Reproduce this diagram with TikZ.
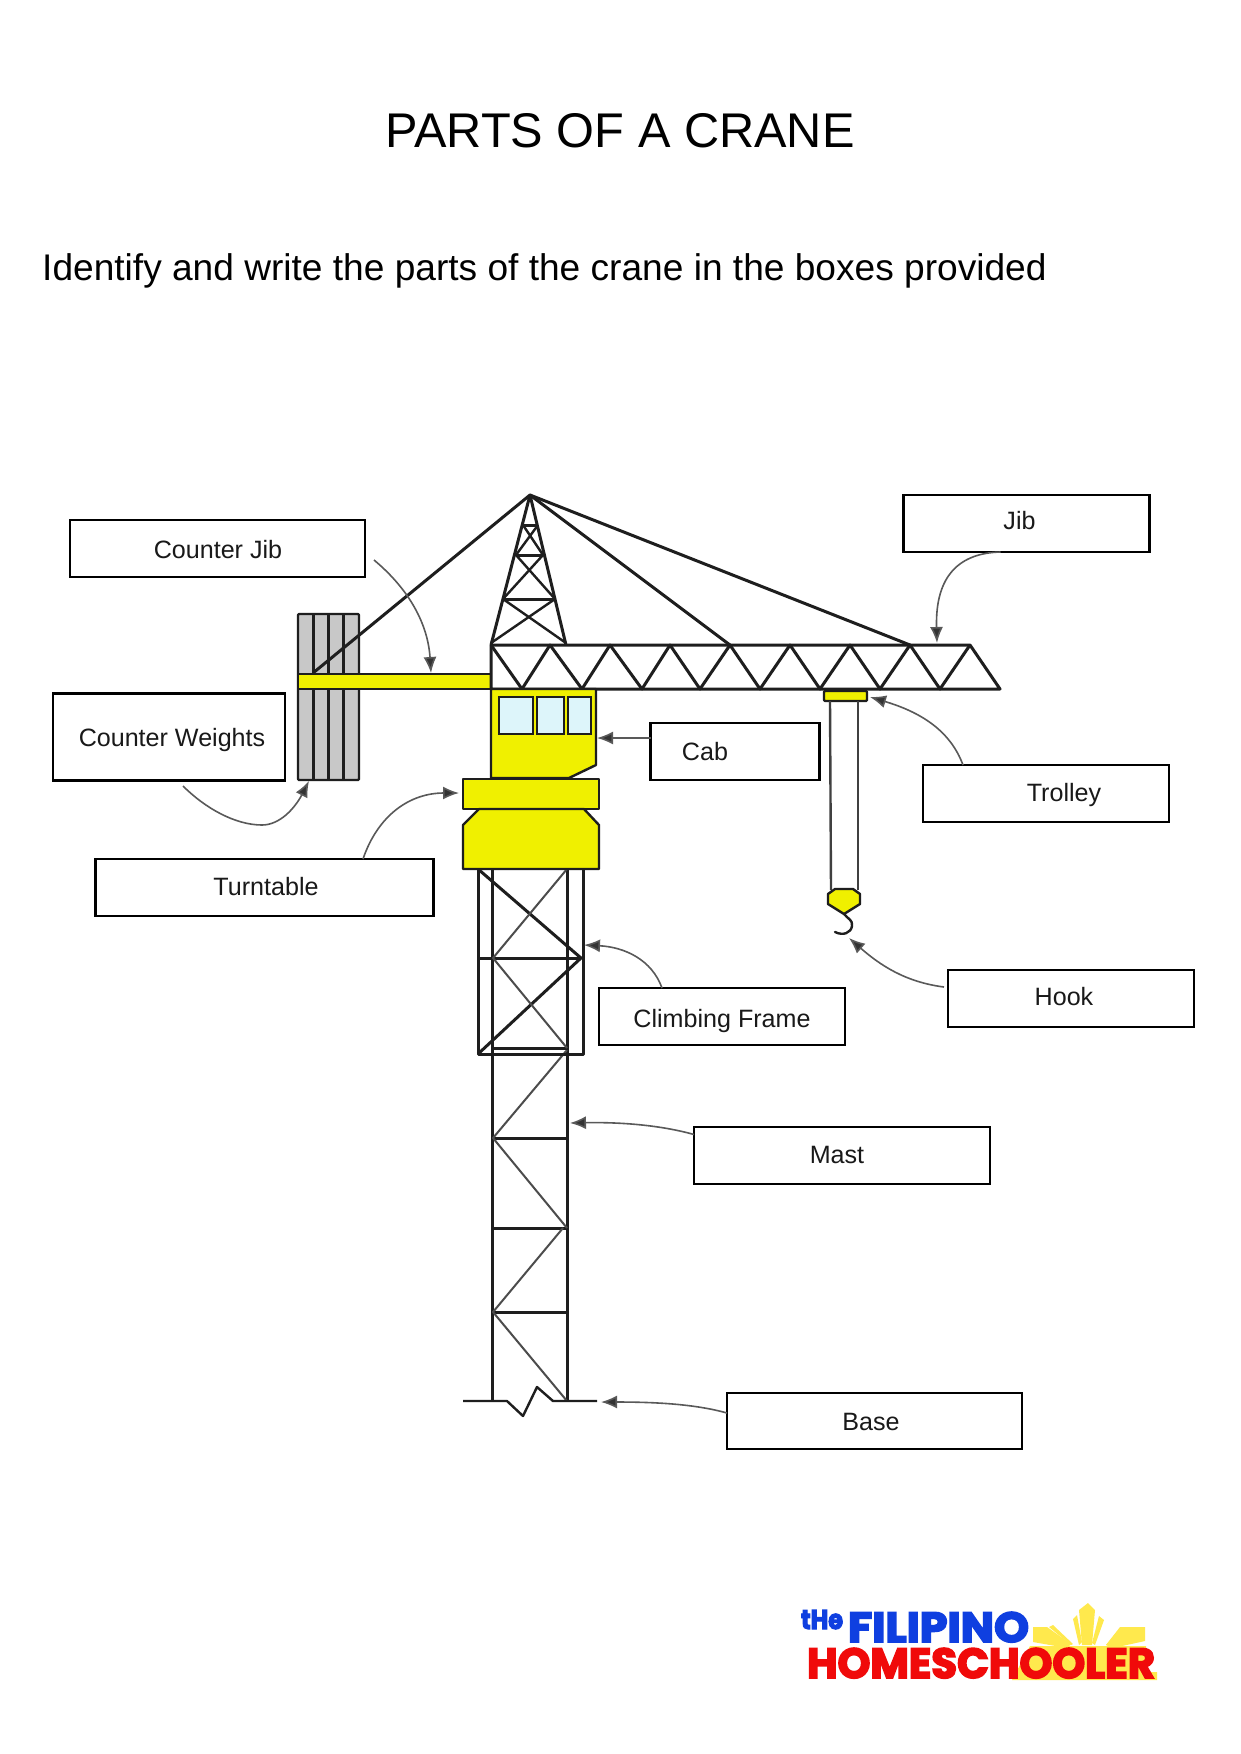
\documentclass[tikz,border=0pt]{standalone}
\usepackage{fontspec}
\usepackage{graphicx}
\usetikzlibrary{arrows.meta}
\setmainfont{Liberation Sans}
\newfontfamily\logofont[FakeBold=4]{Poppins Bold}
\definecolor{craneyellow}{HTML}{F0F000}
\definecolor{counterweight}{HTML}{C8C8C8}
\definecolor{cabglass}{HTML}{DDF5FA}
\definecolor{steel}{HTML}{1E1E1E}
\definecolor{logoblue}{HTML}{0F3FE0}
\definecolor{logored}{HTML}{F00A0A}
\definecolor{logosun}{HTML}{FFE94D}
\tikzset{
  x=1pt, y=-1pt,
  titletext/.style={font=\fontsize{48.7}{56}\selectfont, text=black, inner sep=0},
  subtitletext/.style={font=\fontsize{37.1}{44}\selectfont, text=black, inner sep=0, anchor=west},
  partbox/.style={draw=black, line width=2.4pt, fill=white, inner sep=0, outer sep=0},
  partlabel/.style={font=\fontsize{25.1}{30}\selectfont, text=black!90, inner sep=0, text height=18pt, text depth=5pt},
  callout/.style={draw=black!65, line width=1.6pt, -{Latex[length=16pt,width=13pt,fill=black!80]}},
  heavy/.style={draw=steel, line width=3pt, line join=round},
  medium/.style={draw=steel, line width=2.4pt, line join=round},
  slim/.style={draw=black!70, line width=2pt, line join=round},
  yellowpart/.style={draw=steel, fill=craneyellow, line width=2.4pt, line join=round},
  logotext/.style={inner sep=0, outer sep=0, anchor=north west},
  sunray/.style={fill=logosun, draw=none}
}
\begin{document}
\begin{tikzpicture}
\useasboundingbox (0,0) rectangle (1240,1754);
\fill[white] (0,0) rectangle (1240,1754);

% Headings
\node[titletext] (title) at (620,131) {PARTS OF A CRANE};
\node[subtitletext] (subtitle) at (42,271) {Identify and write the parts of the crane in the boxes provided};

% Counterweight stack
\draw[medium, fill=counterweight, rounded corners=1pt] (298,614) rectangle (359,780);
\foreach \sx in {313,328,343} \draw[heavy] (\sx,614) -- (\sx,780);

% Counter jib
\draw[yellowpart] (298,674) rectangle (491,689);

% Tower top above the jib
\draw[heavy] (491,645) -- (530,495) -- (566,645);
\draw[heavy] (523,525) -- (538,525);
\draw[heavy] (516,555) -- (543,555);
\draw[heavy] (503,599) -- (555,599);
\draw[medium] (523,525) -- (543,555) (538,525) -- (516,555);
\draw[medium] (516,555) -- (555,599) (543,555) -- (503,599);
\draw[medium] (503,599) -- (566,643) (555,599) -- (491,643);

% Stay cables
\draw[heavy] (313,673) -- (530,495) -- (730,645);
\draw[heavy] (530,495) -- (910,645);

% Jib truss
\draw[heavy] (491,689) -- (491,645) -- (970,645) -- (1000,689) -- cycle;
\draw[heavy] (491,645) -- (522,689) -- (550,645) -- (582,689) -- (610,645) -- (642,689)
  -- (670,645) -- (700,689) -- (730,645) -- (760,689) -- (790,645) -- (820,689)
  -- (850,645) -- (880,689) -- (910,645) -- (940,689) -- (970,645);

% Cab and its windows
\draw[yellowpart] (491,689) -- (596,689) -- (596,765) -- (569,778) -- (491,778) -- cycle;
\draw[draw=steel, fill=cabglass, line width=1.6pt] (499,697) rectangle (533,734);
\draw[draw=steel, fill=cabglass, line width=1.6pt] (537,697) rectangle (564,734);
\draw[draw=steel, fill=cabglass, line width=1.6pt] (568,697) rectangle (591,734);

% Mast below the turntable
\draw[heavy] (492.5,869) -- (492.5,1401);
\draw[heavy] (567.5,869) -- (567.5,1401);
\draw[heavy] (493,1138) -- (567,1138);
\draw[heavy] (493,1228) -- (567,1228);
\draw[heavy] (493,1312) -- (567,1312);
\draw[slim] (567,1050) -- (493,1138) -- (567,1228);
\draw[slim] (563,1228) -- (493,1312) -- (567,1401);

% Climbing frame
\draw[heavy] (478,869) -- (478,1054) -- (583,1054) -- (583,869);
\draw[heavy] (478,958) -- (581,958);
\draw[heavy] (493,1048) -- (567,1048);
\draw[heavy] (478,869) -- (581,958) -- (478,1054);
\draw[slim] (567,869) -- (493,958) -- (567,1048);

% Turntable
\draw[yellowpart] (463,779) rectangle (599,809);
\draw[yellowpart] (479,809) -- (584,809) -- (599,825) -- (599,869) -- (463,869) -- (463,825) -- cycle;

% Ground line with break mark
\draw[medium] (463,1401) -- (507,1401) -- (523,1416) -- (537,1387) -- (553,1401) -- (597,1401);

% Trolley, ropes and hook
\draw[yellowpart, rounded corners=1pt] (824,691) rectangle (867,701);
\draw[medium, draw=black!75] (830,701) -- (831,890);
\draw[medium, draw=black!75] (858,701) -- (858,890);
\draw[yellowpart] (835,889) -- (853,889) -- (860,894) -- (860,904) -- (844,914) -- (828,904) -- (828,894) -- cycle;
\draw[medium, line cap=round] (844,914) .. controls (848,919) and (853,920) .. (852,926)
  .. controls (851,933) and (843,936) .. (835,932);

% Label boxes
\node[partbox, minimum width=295pt, minimum height=57pt] (counterjib) at (217.5,548.5) {};
\node[partlabel] (counterjibtext) at (218,551.5) {Counter Jib};
\node[partbox, minimum width=246pt, minimum height=57pt] (jib) at (1026.5,523.5) {};
\node[partlabel] (jibtext) at (1019.5,523) {Jib};
\node[partbox, minimum width=232pt, minimum height=87pt] (weights) at (169,737) {};
\node[partlabel] (weightstext) at (172,739.5) {Counter Weights};
\node[partbox, minimum width=169pt, minimum height=57pt] (cab) at (735,751.5) {};
\node[partlabel] (cabtext) at (705,754) {Cab};
\node[partbox, minimum width=246pt, minimum height=57pt] (trolley) at (1046,793.5) {};
\node[partlabel] (trolleytext) at (1064,794.5) {Trolley};
\node[partbox, minimum width=338pt, minimum height=57pt] (turntable) at (264.5,887.5) {};
\node[partlabel] (turntabletext) at (266,888.5) {Turntable};
\node[partbox, minimum width=246pt, minimum height=57pt] (climbing) at (722,1016.5) {};
\node[partlabel] (climbingtext) at (722,1021) {Climbing Frame};
\node[partbox, minimum width=246pt, minimum height=57pt] (hook) at (1071,998.5) {};
\node[partlabel] (hooktext) at (1064,999) {Hook};
\node[partbox, minimum width=296pt, minimum height=57pt] (mast) at (842,1155.5) {};
\node[partlabel] (masttext) at (837,1157) {Mast};
\node[partbox, minimum width=295pt, minimum height=56pt] (base) at (874.5,1421) {};
\node[partlabel] (basetext) at (871,1424) {Base};

% Points on the crane that the callouts lead to
\coordinate (jibtail) at ([xshift=-26pt]jib.south);
\coordinate (jibtip) at (937,643);
\coordinate (cjtail) at (374,560);
\coordinate (cjtip) at (431,673);
\coordinate (trolleytail) at ([xshift=-83pt]trolley.north);
\coordinate (trolleytip) at (870,697);
\coordinate (weightstail) at (183,786);
\coordinate (weightsmid) at (262,825);
\coordinate (weightstip) at (309,781);
\coordinate (turntail) at ([xshift=98.5pt]turntable.north);
\coordinate (turntip) at (459,793);
\coordinate (climbtail) at ([xshift=-60pt]climbing.north);
\coordinate (climbtip) at (584,945);
\coordinate (hooktail) at ([xshift=-4pt,yshift=-17pt]hook.north west);
\coordinate (hooktip) at (849,938);
\coordinate (masttail) at ([yshift=21pt]mast.west);
\coordinate (masttip) at (570,1123);
\coordinate (basetail) at ([yshift=8pt]base.west);
\coordinate (basetip) at (601,1402);
\coordinate (cabtip) at (597,738);

% Callouts
\draw[callout] (cjtail) .. controls (410,590) and (428,625) .. (cjtip);
\draw[callout] (jibtail) .. controls (960,553) and (935,575) .. (jibtip);
\draw[callout] (trolleytail) .. controls (950,730) and (920,712) .. (trolleytip);
\draw[callout] (weightstail) .. controls (205,808) and (235,825) .. (weightsmid)
  .. controls (280,825) and (295,808) .. (weightstip);
\draw[callout] (turntail) .. controls (378,815) and (410,793) .. (turntip);
\draw[callout] (climbtail) .. controls (652,960) and (625,947) .. (climbtip);
\draw[callout] (hooktail) .. controls (905,982) and (880,965) .. (hooktip);
\draw[callout] (masttail) .. controls (660,1125) and (620,1122) .. (masttip);
\draw[callout] (basetail) .. controls (695,1404) and (655,1402) .. (basetip);
\draw[callout] (cab.west |- cabtip) -- (cabtip);

% Publisher mark: sun rays behind the lettering
\fill[sunray] (1088,1603) -- (1095,1610) -- (1092,1645) -- (1082,1645) -- (1079,1610) -- cycle;
\fill[sunray] (1073,1619) -- (1077,1615) -- (1082,1642) -- (1079,1645) -- cycle;
\fill[sunray] (1099,1616) -- (1104,1620) -- (1095,1645) -- (1092,1643) -- cycle;
\fill[sunray] (1033,1627) -- (1047,1627) -- (1071,1644) -- (1067,1648) -- (1033,1642) -- cycle;
\fill[sunray] (1049,1627) -- (1053,1625) -- (1073,1644) -- (1071,1645) -- cycle;
\fill[sunray] (1120,1627) -- (1145,1627) -- (1145,1641) -- (1113,1648) -- (1106,1645) -- cycle;
\fill[sunray] (1120,1628) -- (1127,1628) -- (1110,1645) -- (1106,1645) -- cycle;
\fill[sunray] (1030,1646) -- (1146,1646) -- (1146,1672) -- (1157,1672) -- (1157,1680) -- (1012,1680) -- cycle;

% Publisher mark: lettering
\node[logotext, text=logoblue] (logothe) at (801,1610) {\resizebox{42pt}{19pt}{\logofont tHe}};
\node[logotext, text=logoblue] (logofilipino) at (848,1612) {\resizebox{181pt}{30pt}{\logofont FILIPINO}};
\node[logotext, text=logored] (logohome) at (807,1648) {\resizebox{348pt}{30pt}{\logofont HOMESCHOOLER}};
\end{tikzpicture}
\end{document}
